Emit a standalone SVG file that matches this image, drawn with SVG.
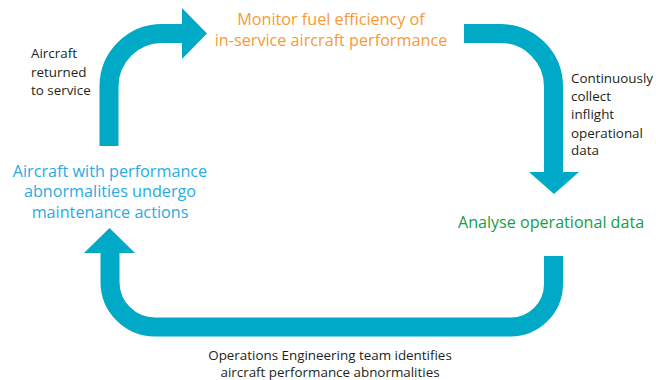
<svg xmlns="http://www.w3.org/2000/svg" width="656" height="380" viewBox="0 0 656 380">
<style>
.band{fill:none;stroke:#00A9C6;stroke-width:19;stroke-linecap:butt}
.head{fill:#00A9C6}
text{font-family:"Open Sans","Liberation Sans",sans-serif}
.orange{fill:#F79A34;font-size:16.2px;text-anchor:middle}
.blue{fill:#29ABE2;font-size:16.2px;text-anchor:middle}
.green{fill:#12A04A;font-size:16.1px}
.note{fill:#231F20;font-size:13.4px}
</style>
<rect width="656" height="380" fill="#fff"/>
<g id="connectors">
<path class="band" d="M109,146 V86.5 A53,53 0 0 1 162,33.5 H183"/>
<polygon class="head" points="182,8 207,33.5 182,59"/>
<path class="band" d="M464,33.5 H501 A53,53 0 0 1 553.5,86.5 V173"/>
<polygon class="head" points="529,172 579,172 554,194"/>
<path class="band" d="M553.5,256 V284 A43,43 0 0 1 510.5,327 H155 A45,45 0 0 1 110,282 V252"/>
<polygon class="head" points="84,253 135,253 109.5,228"/>
</g>
<g id="node-monitor">
<text class="orange" x="331" y="25">Monitor fuel efficiency of</text>
<text class="orange" x="331" y="46">in-service aircraft performance</text>
</g>
<g id="node-analyse">
<text class="green" x="458" y="228">Analyse operational data</text>
</g>
<g id="node-maintenance">
<text class="blue" x="110" y="177">Aircraft with performance</text>
<text class="blue" x="110" y="197">abnormalities undergo</text>
<text class="blue" x="110" y="218">maintenance actions</text>
</g>
<g id="label-returned">
<text class="note" x="31" y="58">Aircraft</text>
<text class="note" x="31" y="77">returned</text>
<text class="note" x="31" y="95">to service</text>
</g>
<g id="label-collect">
<text class="note" x="571" y="83">Continuously</text>
<text class="note" x="571" y="101">collect</text>
<text class="note" x="571" y="119">inflight</text>
<text class="note" x="571" y="138">operational</text>
<text class="note" x="571" y="155">data</text>
</g>
<g id="label-identifies">
<text class="note" x="330" y="360" text-anchor="middle">Operations Engineering team identifies</text>
<text class="note" x="330" y="377" text-anchor="middle">aircraft performance abnormalities</text>
</g>
</svg>
